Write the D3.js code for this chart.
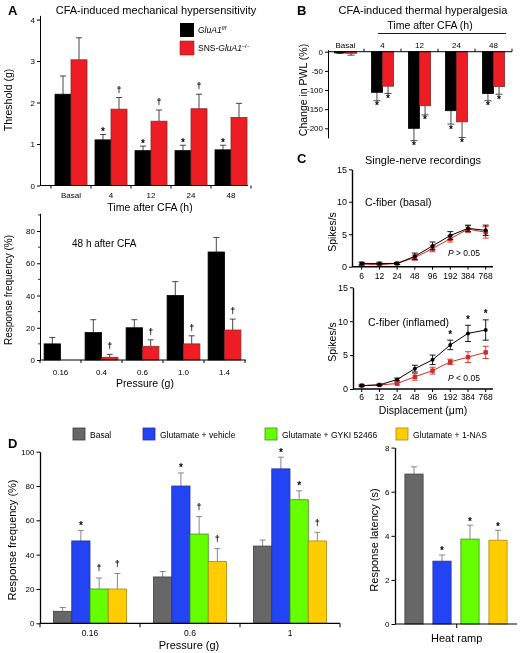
<!DOCTYPE html>
<html><head><meta charset="utf-8">
<script src="https://cdn.jsdelivr.net/npm/d3@7"></script>
<style>body{margin:0;background:#fff}svg{display:block;will-change:transform}text{font-family:"Liberation Sans",Arial,sans-serif}</style>
</head><body><svg id="c" width="521" height="653"></svg>
<script>
// ---------- Panel A (top): mechanical threshold ----------
const aTimes = ["Basal", "4", "12", "24", "48"];
const aThrCtrl = [2.2, 1.1, 0.84, 0.84, 0.86];
const aThrCtrlErr = [0.44, 0.13, 0.11, 0.13, 0.11];
const aThrKO = [3.03, 1.84, 1.55, 1.85, 1.64];
const aThrKOErr = [0.53, 0.28, 0.27, 0.35, 0.34];
const aThrCtrlMarks = ["", "*", "*", "*", "*"];
const aThrKOMarks = ["", "†", "†", "†", ""];
const aThrTicks = [0, 1, 2, 3, 4];
// ---------- Panel A (bottom): response frequency 48 h ----------
const aPress = ["0.16", "0.4", "0.6", "1.0", "1.4"];
const aRespCtrl = [10, 17, 20, 40, 67];
const aRespCtrlErr = [4, 8, 5, 8.6, 9];
const aRespKO = [0, 1.7, 8.5, 10, 18.6];
const aRespKOErr = [0, 1.8, 4, 5, 6.8];
const aRespKOMarks = ["", "†", "†", "†", "†"];
const aRespTicks = [0, 20, 40, 60, 80];
// ---------- Panel B: thermal hyperalgesia ----------
const bTimes = ["Basal", "4", "12", "24", "48"];
const bCtrl = [-3, -106, -200, -154, -109];
const bCtrlErr = [1.5, 22, 32, 35, 19];
const bKO = [-4, -90, -141, -183, -91];
const bKOErr = [5, 19, 24, 41, 20];
const bCtrlMarks = ["", "*", "*", "*", "*"];
const bKOMarks = ["", "*", "*", "*", "*"];
const bTicks = [0, -50, -100, -150, -200];
// ---------- Panel C: single-nerve recordings ----------
const cDisp = ["6", "12", "24", "48", "96", "192", "384", "768"];
const cBasalCtrl = [0.5, 0.5, 0.5, 1.6, 3.2, 4.8, 5.9, 5.6];
const cBasalCtrlErr = [0.2, 0.2, 0.15, 0.5, 0.6, 0.6, 0.5, 0.8];
const cBasalKO = [0.4, 0.3, 0.5, 1.4, 2.8, 4.3, 5.8, 5.3];
const cBasalKOErr = [0.2, 0.2, 0.15, 0.4, 0.5, 0.5, 0.5, 0.9];
const cInflCtrl = [0.5, 0.6, 1.4, 3.0, 4.3, 6.5, 8.2, 8.7];
const cInflCtrlErr = [0.1, 0.1, 0.2, 0.5, 0.7, 0.7, 1.2, 1.5];
const cInflKO = [0.5, 0.6, 0.8, 1.8, 2.7, 4.0, 4.7, 5.4];
const cInflKOErr = [0.1, 0.1, 0.2, 0.5, 0.5, 0.4, 0.8, 0.9];
const cInflMarks = ["", "", "", "", "", "*", "*", "*"];
const cTicks = [0, 5, 10, 15];
// ---------- Panel D ----------
const dTreatments = ["Basal", "Glutamate + vehicle", "Glutamate + GYKI 52466", "Glutamate + 1-NAS"];
const dPressures = ["0.16", "0.6", "1"];
const dRespBasal = [7, 27, 45];
const dRespBasalErr = [2.2, 3.2, 3.5];
const dRespVehicle = [48, 80, 90];
const dRespVehicleErr = [6, 7.6, 6.8];
const dRespGYKI = [20, 52, 72];
const dRespGYKIErr = [6.4, 10.2, 5.2];
const dRespNAS = [20, 36, 48];
const dRespNASErr = [9, 7.5, 5];
const dRespVehicleMarks = ["*", "*", "*"];
const dRespGYKIMarks = ["†", "†", "*"];
const dRespNASMarks = ["†", "†", "†"];
const dRespTicks = [0, 20, 40, 60, 80, 100];
const dLatency = [6.8, 2.85, 3.85, 3.8];
const dLatencyErr = [0.33, 0.28, 0.63, 0.45];
const dLatencyMarks = ["", "*", "*", "*"];
const dLatTicks = [0, 2, 4, 6, 8];

const colBlack = "#000000", colRed = "#ee1c24", colCRed = "#d42a24";
const dColors = ["#676767", "#2344f2", "#66ff00", "#ffcc00"];
const dStrokes = ["#3d3d3d", "#24339a", "#3f8f10", "#a88a10"];

const svg = d3.select("#c");

function T(x, y, s, o = {}) {
  const t = svg.append("text").attr("x", x).attr("y", y).text(s)
    .attr("font-size", o.size || 9).attr("text-anchor", o.anchor || "start")
    .attr("fill", o.fill || "#000");
  if (o.bold) t.attr("font-weight", "bold");
  if (o.italic) t.attr("font-style", "italic");
  if (o.rot) t.attr("transform", `rotate(${o.rot},${x},${y})`);
  return t;
}
function L(x1, y1, x2, y2, c = "#000", w = 1) {
  svg.append("line").attr("x1", x1).attr("y1", y1).attr("x2", x2).attr("y2", y2)
    .attr("stroke", c).attr("stroke-width", w);
}
function mark(x, yc, m) {
  if (!m) return;
  let t;
  if (m === "*") t = T(x, yc + 4.5, "*", { size: 10, anchor: "middle", bold: true });
  else t = T(x, yc + 3.5, "†", { size: 9, anchor: "middle", bold: true });
  t.attr("transform", `rotate(0.01,${x},${yc})`);
}
function yAxis(scale, x, ticks, o = {}) {
  const g = svg.append("g").attr("transform", `translate(${x},0)`);
  g.call(d3.axisLeft(scale).tickValues(ticks).tickSize(o.tick || 3).tickSizeOuter(0)
    .tickPadding(2).tickFormat(d => String(d)));
  g.select(".domain").attr("stroke", "#000").attr("stroke-width", o.w || 1);
  g.selectAll(".tick line").attr("stroke", "#000");
  g.selectAll(".tick text").attr("font-size", o.size || 8).attr("fill", "#000")
    .attr("font-family", '"Liberation Sans", Arial, sans-serif');
  if (o.minor) o.minor.forEach(v => L(x - 2, scale(v), x, scale(v), "#000", 0.8));
  return g;
}
function grouped(cfg) {
  const { x, y, cats, series, cap = 6, markOff = 5, daggerOff = 8, errColor = "#333" } = cfg;
  const sub = d3.scaleBand(d3.range(series.length), [0, x.bandwidth()]);
  series.forEach((s, j) => {
    const rows = cats.map((c, i) => ({ c, v: s.vals[i], e: s.errs[i], m: s.marks ? s.marks[i] : "" }));
    rows.forEach(d => {
      const cx = x(d.c) + sub(j) + sub.bandwidth() / 2;
      if (d.e) {
        const end = d.v >= 0 ? d.v + d.e : d.v - d.e;
        L(cx, y(d.v), cx, y(end), s.errColor || errColor, 0.9);
        L(cx - cap / 2, y(end), cx + cap / 2, y(end), s.errColor || errColor, 0.9);
      }
    });
    svg.append("g").selectAll("rect").data(rows).join("rect")
      .attr("x", d => x(d.c) + sub(j)).attr("width", sub.bandwidth())
      .attr("y", d => Math.min(y(d.v), y(0))).attr("height", d => Math.abs(y(d.v) - y(0)))
      .attr("fill", s.color).attr("stroke", s.stroke || "none").attr("stroke-width", 0.8);
    rows.forEach(d => {
      if (!d.m) return;
      const cx = x(d.c) + sub(j) + sub.bandwidth() / 2;
      const end = d.v >= 0 ? d.v + d.e : d.v - d.e;
      const off = d.m === "*" ? markOff : daggerOff;
      mark(cx, d.v >= 0 ? y(end) - off : y(end) + off + 1, d.m);
    });
  });
}

// ================= Panel A top =================
T(8, 15, "A", { size: 13, bold: true });
T(156, 14, "CFA-induced mechanical hypersensitivity", { size: 11, anchor: "middle" });
{
  const x = d3.scaleBand(aTimes, [51, 251]).paddingInner(0.2).paddingOuter(0.1);
  const y = d3.scaleLinear([0, 4.1], [185.5, 15.4]);
  grouped({ x, y, cats: aTimes, series: [
    { vals: aThrCtrl, errs: aThrCtrlErr, color: colBlack, stroke: "#000", marks: aThrCtrlMarks },
    { vals: aThrKO, errs: aThrKOErr, color: colRed, stroke: "#8a2a2a", marks: aThrKOMarks }
  ], markOff: 4, daggerOff: 8.5 });
  yAxis(y, 40, aThrTicks);
  L(40, y(0), 248, y(0));
  aTimes.forEach(t => { L(x(t) - 4, y(0), x(t) - 4, y(0) + 3); });
  L(251, y(0), 251, y(0) + 3);
  aTimes.forEach(t => T(x(t) + x.bandwidth() / 2, 198, t, { size: 8, anchor: "middle" }));
  T(150, 211, "Time after CFA (h)", { size: 10.5, anchor: "middle" });
  T(12, 100, "Threshold (g)", { size: 10.5, anchor: "middle", rot: -90 });
  // legend
  svg.append("rect").attr("x", 180).attr("y", 23).attr("width", 14).attr("height", 14).attr("fill", colBlack);
  svg.append("rect").attr("x", 180).attr("y", 41).attr("width", 14).attr("height", 14).attr("fill", colRed).attr("stroke", "#8a2a2a").attr("stroke-width", 0.6);
  const t1 = T(198, 33, "", { size: 8.5 });
  t1.append("tspan").attr("font-style", "italic").text("GluA1");
  t1.append("tspan").attr("font-style", "italic").attr("font-size", 5.5).attr("dy", -3).text("f/f");
  const t2 = T(198, 51, "", { size: 8.5 });
  t2.append("tspan").text("SNS-");
  t2.append("tspan").attr("font-style", "italic").text("GluA1");
  t2.append("tspan").attr("font-size", 5.5).attr("dy", -3).text("–/–");
}

// ================= Panel A bottom =================
{
  const x = d3.scaleBand(aPress, [40, 245]).paddingInner(0.2).paddingOuter(0.1);
  const y = d3.scaleLinear([0, 91], [360, 213.3]);
  grouped({ x, y, cats: aPress, series: [
    { vals: aRespCtrl, errs: aRespCtrlErr, color: colBlack, stroke: "#000" },
    { vals: aRespKO, errs: aRespKOErr, color: colRed, stroke: "#8a2a2a", marks: aRespKOMarks }
  ], daggerOff: 8.5 });
  yAxis(y, 40, aRespTicks, { minor: [10, 30, 50, 70, 90] });
  L(40, y(0), 246, y(0));
  aPress.forEach(t => L(x(t) - 4.1, y(0), x(t) - 4.1, y(0) + 3));
  L(245, y(0), 245, y(0) + 3);
  aPress.forEach(t => T(x(t) + x.bandwidth() / 2, 375, t, { size: 8, anchor: "middle" }));
  T(145, 387, "Pressure (g)", { size: 10.5, anchor: "middle" });
  T(72, 247, "48 h after CFA", { size: 10 });
  T(12, 290, "Response frequency (%)", { size: 10, anchor: "middle", rot: -90 });
}

// ================= Panel B =================
T(297, 15, "B", { size: 13, bold: true });
T(423, 14, "CFA-induced thermal hyperalgesia", { size: 11, anchor: "middle" });
T(430, 29, "Time after CFA (h)", { size: 10.5, anchor: "middle" });
L(378, 33.5, 506, 33.5, "#000", 0.9);
{
  const x = d3.scaleBand(bTimes, [327, 512]).paddingInner(0.4).paddingOuter(0.2);
  const y = d3.scaleLinear([5, -225], [49.8, 137.9]);
  grouped({ x, y, cats: bTimes, series: [
    { vals: bCtrl, errs: bCtrlErr, color: colBlack, stroke: "#000", marks: bCtrlMarks },
    { vals: bKO, errs: bKOErr, color: colRed, stroke: "#8a2a2a", marks: bKOMarks }
  ], cap: 7, markOff: 3 });
  yAxis(y, 328, bTicks, { size: 8 });
  L(328, y(0), 512, y(0));
  bTimes.forEach((t, i) => { if (i > 0) L(x(t) - 7.4, y(0) - 3, x(t) - 7.4, y(0)); });
  L(512, y(0) - 3, 512, y(0));
  bTimes.forEach(t => T(x(t) + x.bandwidth() / 2, 48, t, { size: 8, anchor: "middle" }));
  T(306.5, 90, "Change in PWL (%)", { size: 10.5, anchor: "middle", rot: -90 });
}

// ================= Panel C =================
T(297, 163, "C", { size: 13, bold: true });
T(423, 164, "Single-nerve recordings", { size: 11, anchor: "middle" });
function lineChart(y, axisX, ctrl, ctrlErr, ko, koErr, marks, labOff) {
  const x = d3.scalePoint(cDisp, [361.7, 485.7]);
  const series = [
    { v: ko, e: koErr, c: colCRed, kind: "sq" },
    { v: ctrl, e: ctrlErr, c: "#000", kind: "ci" }
  ];
  series.forEach(s => {
    s.v.forEach((v, i) => {
      const cx = x(cDisp[i]);
      L(cx, y(v - s.e[i]), cx, y(v + s.e[i]), s.c, 0.9);
      L(cx - 3, y(v - s.e[i]), cx + 3, y(v - s.e[i]), s.c, 0.9);
      L(cx - 3, y(v + s.e[i]), cx + 3, y(v + s.e[i]), s.c, 0.9);
    });
    svg.append("path").datum(s.v)
      .attr("d", d3.line().x((d, i) => x(cDisp[i])).y(d => y(d)))
      .attr("fill", "none").attr("stroke", s.c).attr("stroke-width", 1);
    if (s.kind === "sq") {
      svg.append("g").selectAll("rect").data(s.v).join("rect")
        .attr("x", (d, i) => x(cDisp[i]) - 2.2).attr("y", d => y(d) - 2.2)
        .attr("width", 4.4).attr("height", 4.4).attr("fill", s.c);
    } else {
      svg.append("g").selectAll("circle").data(s.v).join("circle")
        .attr("cx", (d, i) => x(cDisp[i])).attr("cy", d => y(d)).attr("r", 2).attr("fill", s.c);
    }
  });
  if (marks) marks.forEach((m, i) => { if (m) mark(x(cDisp[i]), y(ctrl[i] + ctrlErr[i]) - 7, m); });
  yAxis(y, axisX, cTicks, { size: 9, w: 1.4 });
  L(axisX, y(0), 493, y(0), "#000", 1.4);
  cDisp.forEach(d => L(x(d), y(0), x(d), y(0) + 3));
  cDisp.forEach(d => T(x(d), y(0) + labOff, d, { size: 8.5, anchor: "middle" }));
  return x;
}
{
  const y1 = d3.scaleLinear([0, 15], [266.7, 169.3]);
  lineChart(y1, 352, cBasalCtrl, cBasalCtrlErr, cBasalKO, cBasalKOErr, null, 12.5);
  T(365, 205.5, "C-fiber (basal)", { size: 10.5 });
  const p1 = T(448, 256, "", { size: 8.5 });
  p1.append("tspan").attr("font-style", "italic").text("P");
  p1.append("tspan").text(" > 0.05");
  T(335.5, 232, "Spikes/s", { size: 10.5, anchor: "middle", rot: -90 });

  const y2 = d3.scaleLinear([0, 15], [389, 287.3]);
  lineChart(y2, 353, cInflCtrl, cInflCtrlErr, cInflKO, cInflKOErr, cInflMarks, 11);
  T(368, 325.5, "C-fiber (inflamed)", { size: 10.5 });
  const p2 = T(448, 381, "", { size: 8.5 });
  p2.append("tspan").attr("font-style", "italic").text("P");
  p2.append("tspan").text(" < 0.05");
  T(335.5, 342, "Spikes/s", { size: 10.5, anchor: "middle", rot: -90 });
  T(423, 413.5, "Displacement (μm)", { size: 10.5, anchor: "middle" });
}

// ================= Panel D =================
T(8, 448, "D", { size: 13, bold: true });
{
  const legX = [73, 143, 265, 396];
  dTreatments.forEach((t, i) => {
    svg.append("rect").attr("x", legX[i]).attr("y", 428).attr("width", 12).attr("height", 12)
      .attr("fill", dColors[i]).attr("stroke", dStrokes[i]).attr("stroke-width", 0.8);
    T(legX[i] + 17, 437.5, t, { size: 8.5 });
  });
}
{
  const x = d3.scaleBand(dPressures, [40, 340]).paddingInner(0.27).paddingOuter(0.135);
  const y = d3.scaleLinear([0, 100], [623.3, 451.7]);
  const vals = [dRespBasal, dRespVehicle, dRespGYKI, dRespNAS];
  const errs = [dRespBasalErr, dRespVehicleErr, dRespGYKIErr, dRespNASErr];
  const marks = [null, dRespVehicleMarks, dRespGYKIMarks, dRespNASMarks];
  grouped({ x, y, cats: dPressures, series: vals.map((v, i) => ({
    vals: v, errs: errs[i], color: dColors[i], stroke: dStrokes[i], marks: marks[i], errColor: "#7a7a7a"
  })), cap: 6, markOff: 6, daggerOff: 10 });
  yAxis(y, 40, dRespTicks, { size: 8, w: 1.3, tick: 3.5 });
  L(40, y(0), 340, y(0), "#000", 1.2);
  [40, 140, 240, 340].forEach(v => L(v, y(0), v, y(0) + 4));
  dPressures.forEach(p => T(x(p) + x.bandwidth() / 2, 636, p, { size: 8.5, anchor: "middle" }));
  T(189, 649, "Pressure (g)", { size: 11, anchor: "middle" });
  T(15.5, 540, "Response frequency (%)", { size: 11, anchor: "middle", rot: -90 });
}
{
  const x = d3.scaleBand(dTreatments, [395, 517]).paddingInner(0.35).paddingOuter(0.354);
  const y = d3.scaleLinear([0, 8], [624, 447.6]);
  dTreatments.forEach((t, i) => {
    const cx = x(t) + x.bandwidth() / 2;
    const top = dLatency[i] + dLatencyErr[i];
    L(cx, y(dLatency[i]), cx, y(top), "#7a7a7a", 0.9);
    L(cx - 3, y(top), cx + 3, y(top), "#7a7a7a", 0.9);
  });
  svg.append("g").selectAll("rect").data(dTreatments).join("rect")
    .attr("x", d => x(d)).attr("width", x.bandwidth())
    .attr("y", (d, i) => y(dLatency[i])).attr("height", (d, i) => y(0) - y(dLatency[i]))
    .attr("fill", (d, i) => dColors[i]).attr("stroke", (d, i) => dStrokes[i]).attr("stroke-width", 0.8);
  dTreatments.forEach((t, i) => mark(x(t) + x.bandwidth() / 2, y(dLatency[i] + dLatencyErr[i]) - 5, dLatencyMarks[i]));
  yAxis(y, 395, dLatTicks, { size: 8, w: 1.3, tick: 3.5 });
  L(395, y(0), 517, y(0), "#000", 1.2);
  L(456.7, y(0), 456.7, y(0) + 4);
  T(456.7, 642, "Heat ramp", { size: 11, anchor: "middle" });
  T(377.5, 540, "Response latency (s)", { size: 11, anchor: "middle", rot: -90 });
}
</script></body></html>
